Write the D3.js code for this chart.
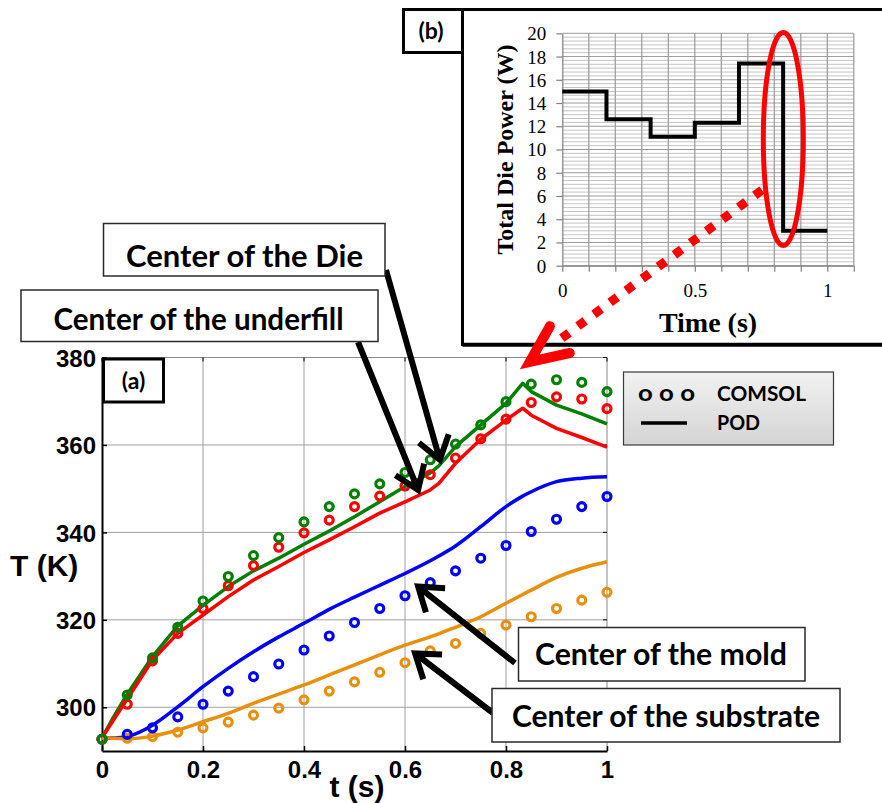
<!DOCTYPE html>
<html>
<head>
<meta charset="utf-8">
<script src="https://cdn.jsdelivr.net/npm/d3@7"></script>
<style>
  html, body { margin: 0; padding: 0; background: #fff; }
  svg { display: block; }
</style>
</head>
<body>
<svg id="chart" width="882" height="803"></svg>
<script>
// ---- Temperature histories (K) ----
const tComsol = [0, 0.05, 0.1, 0.15, 0.2, 0.25, 0.3, 0.35, 0.4, 0.45, 0.5, 0.55, 0.6, 0.65, 0.7, 0.75, 0.8, 0.85, 0.9, 0.95, 1];
const dieComsol       = [292.7, 302.8, 311.3, 318.3, 324.3, 329.9, 334.7, 338.8, 342.4, 345.9, 348.8, 351.1, 353.7, 356.6, 360.2, 364.6, 369.9, 373.9, 374.9, 374.3, 372.2];
const underfillComsol = [292.7, 300.7, 310.6, 316.9, 322.6, 327.8, 332.4, 336.6, 339.9, 342.8, 345.9, 348.3, 350.6, 353.2, 357.0, 361.4, 365.9, 369.7, 371.0, 370.5, 368.3];
const moldComsol      = [292.7, 293.8, 295.3, 297.8, 300.7, 303.7, 307.0, 309.9, 313.1, 316.3, 319.4, 322.6, 325.5, 328.5, 331.2, 334.1, 337.0, 340.2, 343.0, 345.9, 348.2];
const substrateComsol = [292.7, 292.9, 293.3, 294.3, 295.3, 296.6, 298.2, 299.8, 301.7, 303.7, 305.8, 308.0, 310.2, 312.9, 314.6, 316.9, 318.8, 320.7, 322.6, 324.5, 326.3];

const tPod = [0, 0.025, 0.05, 0.1, 0.15, 0.2, 0.25, 0.3, 0.35, 0.4, 0.45, 0.5, 0.55, 0.6, 0.65, 0.667, 0.7, 0.75, 0.8, 0.833, 0.85, 0.9, 0.95, 1];
const diePod       = [293.0, 298.2, 303.0, 311.6, 318.6, 323.3, 327.6, 331.2, 334.1, 337.3, 340.3, 343.6, 347.0, 350.5, 353.6, 355.2, 359.6, 364.6, 369.5, 374.1, 372.2, 369.1, 367.1, 364.8];
const underfillPod = [293.0, 297.5, 301.9, 310.8, 316.9, 321.1, 325.3, 329.1, 332.2, 335.4, 338.3, 341.3, 344.4, 347.0, 349.7, 351.2, 355.8, 361.3, 365.7, 368.4, 366.8, 363.8, 361.7, 359.5];
const moldPod      = [293.0, 293.0, 293.3, 295.9, 300.1, 304.7, 308.9, 312.7, 316.1, 319.2, 322.4, 325.2, 327.9, 330.6, 333.5, 334.6, 336.9, 341.3, 345.9, 348.3, 349.3, 351.6, 352.4, 352.7];
const substratePod = [293.0, 292.9, 292.8, 293.4, 294.8, 296.7, 298.6, 300.9, 303.0, 305.1, 307.4, 309.7, 312.0, 314.2, 316.1, 316.8, 318.3, 320.7, 323.8, 325.8, 326.8, 329.7, 331.8, 333.3];

const seriesNames  = ["die", "underfill", "mold", "substrate"];
const seriesColors = ["#008000", "#ff0000", "#0000ff", "#e8900c"];

const xTicks = [0, 0.2, 0.4, 0.6, 0.8, 1];
const xTickLabels = ["0", "0.2", "0.4", "0.6", "0.8", "1"];
const yTicks = [300, 320, 340, 360, 380];

// ---- Die power steps (W) ----
const powerT = [0, 0.1667, 0.3333, 0.5, 0.6667, 0.8333, 1];
const powerW = [15, 12.6, 11.1, 12.3, 17.4, 3, 3];
const powerXTicks = [0, 0.5, 1];
const powerYTicks = [0, 2, 4, 6, 8, 10, 12, 14, 16, 18, 20];

const svg = d3.select("#chart");
const sans = "'Liberation Sans', Arial, sans-serif";
const box = "Lato, 'Open Sans', sans-serif";
const serif = "'Liberation Serif', 'Times New Roman', serif";

// ================= Main plot (a) =================
const x = d3.scaleLinear().domain([0, 1]).range([102, 607]);
const y = d3.scaleLinear().domain([290, 380]).range([751, 357.5]);

const main = svg.append("g");

// grid
main.append("g").selectAll("line").data(xTicks.filter(d => d > 0 && d < 1)).join("line")
  .attr("x1", d => x(d)).attr("x2", d => x(d)).attr("y1", y(290)).attr("y2", y(380))
  .attr("stroke", "#a0a0a0").attr("stroke-width", 1);
main.append("g").selectAll("line").data(yTicks.filter(d => d < 380)).join("line")
  .attr("x1", x(0)).attr("x2", x(1)).attr("y1", d => y(d)).attr("y2", d => y(d))
  .attr("stroke", "#a0a0a0").attr("stroke-width", 1);

// top/right frame with small inward ticks
main.append("line").attr("x1", x(0)).attr("x2", x(1)).attr("y1", y(380)).attr("y2", y(380))
  .attr("stroke", "#8a8a8a").attr("stroke-width", 1);
main.append("line").attr("x1", x(1)).attr("x2", x(1)).attr("y1", y(290)).attr("y2", y(380))
  .attr("stroke", "#8a8a8a").attr("stroke-width", 1);
main.append("g").selectAll("line").data(xTicks).join("line")
  .attr("x1", d => x(d)).attr("x2", d => x(d)).attr("y1", y(380)).attr("y2", y(380) + 4)
  .attr("stroke", "#000").attr("stroke-width", 1);
main.append("g").selectAll("line").data(yTicks).join("line")
  .attr("x1", x(1) - 4).attr("x2", x(1)).attr("y1", d => y(d)).attr("y2", d => y(d))
  .attr("stroke", "#000").attr("stroke-width", 1);

// left and bottom axes
const yAxis = main.append("g").attr("transform", `translate(${x(0)},0)`)
  .call(d3.axisLeft(y).tickValues(yTicks).tickSizeInner(-5).tickSizeOuter(0).tickPadding(6));
const xAxis = main.append("g").attr("transform", `translate(0,${y(290)})`)
  .call(d3.axisBottom(x).tickValues(xTicks).tickFormat((d, i) => xTickLabels[i]).tickSizeInner(-5).tickSizeOuter(0).tickPadding(10));
[yAxis, xAxis].forEach(a => {
  a.select(".domain").attr("stroke", "#000").attr("stroke-width", 2);
  a.selectAll(".tick line").attr("stroke", "#000").attr("stroke-width", 1.5);
  a.selectAll("text").attr("font-family", sans).attr("font-weight", "bold")
    .attr("font-size", 24).attr("fill", "#000");
});
yAxis.selectAll("text").attr("dy", "0.36em");
xAxis.selectAll("text").attr("dy", "0.71em");

// axis titles
main.append("text").attr("x", 10).attr("y", 576).text("T (K)")
  .attr("font-family", sans).attr("font-weight", "bold").attr("font-size", 30);
main.append("text").attr("x", 357).attr("y", 797).attr("text-anchor", "middle").text("t (s)")
  .attr("font-family", sans).attr("font-weight", "bold").attr("font-size", 30);

// POD curves: die and underfill keep their sharp kinks, mold and substrate are smooth
const podSeries = [diePod, underfillPod, moldPod, substratePod];
const comsolSeries = [dieComsol, underfillComsol, moldComsol, substrateComsol];
const sharpLine = d3.line().x(d => x(d[0])).y(d => y(d[1]));
const smoothLine = d3.line().curve(d3.curveMonotoneX).x(d => x(d[0])).y(d => y(d[1]));
main.append("g").selectAll("path").data(podSeries).join("path")
  .attr("d", (s, i) => (i < 2 ? sharpLine : smoothLine)(tPod.map((t, k) => [t, s[k]])))
  .attr("fill", "none")
  .attr("stroke", (s, i) => seriesColors[i])
  .attr("stroke-width", 3.5)
  .attr("stroke-linejoin", "round");

// COMSOL markers
comsolSeries.slice().reverse().forEach((s, ri) => {
  const i = comsolSeries.length - 1 - ri;
  main.append("g").attr("class", "m-" + seriesNames[i]).selectAll("circle")
    .data(tComsol.map((t, k) => [t, s[k]])).join("circle")
    .attr("cx", d => x(d[0])).attr("cy", d => y(d[1])).attr("r", 4)
    .attr("fill", "none").attr("stroke", seriesColors[i]).attr("stroke-width", 3.1);
});

// (a) label box
main.append("rect").attr("x", 103.5).attr("y", 359).attr("width", 60).attr("height", 43)
  .attr("fill", "#fff").attr("stroke", "#000").attr("stroke-width", 3);
main.append("text").attr("x", 133.5).attr("y", 389).attr("text-anchor", "middle").text("(a)")
  .attr("font-family", box).attr("font-weight", "bold").attr("font-size", 23);

// legend
const defs = svg.append("defs");
const grad = defs.append("linearGradient").attr("id", "legendFill").attr("x1", 0).attr("x2", 0).attr("y1", 0).attr("y2", 1);
grad.append("stop").attr("offset", "0%").attr("stop-color", "#f2f2f2");
grad.append("stop").attr("offset", "100%").attr("stop-color", "#d4d4d4");
const leg = svg.append("g");
leg.append("rect").attr("x", 623.5).attr("y", 372).attr("width", 210).attr("height", 73)
  .attr("fill", "url(#legendFill)").attr("stroke", "#3a3a3a").attr("stroke-width", 1.2);
leg.append("text").attr("x", 638).attr("y", 401).text("o o o")
  .attr("font-family", box).attr("font-weight", "bold").attr("font-size", 22)
  .attr("textLength", 57).attr("lengthAdjust", "spacingAndGlyphs");
leg.append("line").attr("x1", 641).attr("x2", 687).attr("y1", 423).attr("y2", 423)
  .attr("stroke", "#000").attr("stroke-width", 3.5);
leg.append("text").attr("x", 717).attr("y", 401).text("COMSOL")
  .attr("font-family", box).attr("font-weight", "bold").attr("font-size", 21)
  .attr("textLength", 89).attr("lengthAdjust", "spacingAndGlyphs");
leg.append("text").attr("x", 717).attr("y", 430).text("POD")
  .attr("font-family", box).attr("font-weight", "bold").attr("font-size", 21)
  .attr("textLength", 43).attr("lengthAdjust", "spacingAndGlyphs");

// ================= Inset plot (b) =================
const inset = svg.append("g");
inset.append("rect").attr("x", 462.5).attr("y", 9.5).attr("width", 430).attr("height", 335)
  .attr("fill", "#fff").attr("stroke", "#000").attr("stroke-width", 3);
inset.append("line").attr("x1", 462.5).attr("x2", 882).attr("y1", 344.7).attr("y2", 344.7)
  .attr("stroke", "#000").attr("stroke-width", 4);
inset.append("rect").attr("x", 403.5).attr("y", 9.5).attr("width", 59).attr("height", 43)
  .attr("fill", "#fff").attr("stroke", "#000").attr("stroke-width", 3);
inset.append("text").attr("x", 431).attr("y", 39).attr("text-anchor", "middle").text("(b)")
  .attr("font-family", box).attr("font-weight", "bold").attr("font-size", 23);

const xi = d3.scaleLinear().domain([0, 1.1]).range([562.3, 853.8]);
const yi = d3.scaleLinear().domain([0, 20]).range([265.7, 33.3]);

// minor horizontal grid every 1/3 W, majors every 2 W
const minorY = d3.range(0, 61).map(k => k / 3);
inset.append("g").selectAll("line").data(minorY).join("line")
  .attr("x1", xi(0)).attr("x2", xi(1.1)).attr("y1", d => yi(d)).attr("y2", d => yi(d))
  .attr("stroke", d => (Math.abs(d / 2 - Math.round(d / 2)) < 1e-6) ? "#9a9a9a" : "#c4c4c4")
  .attr("stroke-width", 1);
const gridX = d3.range(1, 12).map(k => k / 10);
inset.append("g").selectAll("line").data(gridX).join("line")
  .attr("x1", d => xi(d)).attr("x2", d => xi(d)).attr("y1", yi(0)).attr("y2", yi(20))
  .attr("stroke", "#9a9a9a").attr("stroke-width", 1.2);

const yiAxis = inset.append("g").attr("transform", `translate(${xi(0)},0)`)
  .call(d3.axisLeft(yi).tickValues(powerYTicks).tickSizeInner(6).tickSizeOuter(0).tickPadding(10));
const xiAxis = inset.append("g").attr("transform", `translate(0,${yi(0)})`)
  .call(d3.axisBottom(xi).tickValues(d3.range(0, 12).map(k => k / 10)).tickSizeInner(6).tickSizeOuter(0)
    .tickFormat(d => powerXTicks.some(v => Math.abs(v - d) < 1e-9) ? d3.format("")(+d.toFixed(1)) : "").tickPadding(12));
[yiAxis, xiAxis].forEach(a => {
  a.select(".domain").attr("stroke", "#808080").attr("stroke-width", 1.2);
  a.selectAll(".tick line").attr("stroke", "#808080").attr("stroke-width", 1.2);
  a.selectAll("text").attr("font-family", serif).attr("font-size", 19).attr("fill", "#000");
});
yiAxis.selectAll("text").attr("dy", "0.34em");
xiAxis.selectAll("text").attr("dy", "0.71em");

inset.append("text").attr("x", xi(0.55)).attr("y", 332).attr("text-anchor", "middle").text("Time (s)")
  .attr("font-family", serif).attr("font-weight", "bold").attr("font-size", 28);
inset.append("text").attr("transform", `translate(513,${yi(10)}) rotate(-90)`).attr("text-anchor", "middle")
  .text("Total Die Power (W)")
  .attr("font-family", serif).attr("font-weight", "bold").attr("font-size", 24);

const stepLine = d3.line().curve(d3.curveStepAfter).x(d => xi(d[0])).y(d => yi(d[1]));
inset.append("path").attr("d", stepLine(powerT.map((t, i) => [t, powerW[i]])))
  .attr("fill", "none").attr("stroke", "#000").attr("stroke-width", 4).attr("stroke-linejoin", "miter");

// highlight of the power drop
inset.append("ellipse").attr("cx", xi(0.834)).attr("cy", yi(10.9)).attr("rx", 20).attr("ry", 106.5)
  .attr("fill", "none").attr("stroke", "#ff0000").attr("stroke-width", 5);

// ================= Call-outs =================
const ann = svg.append("g");

// red dotted pointer from the power drop to the temperature peak
const redTail = [762, 190];
const redTip = [x(0.847), y(379)];
(function () {
  const ang = Math.atan2(redTip[1] - redTail[1], redTip[0] - redTail[0]);
  const stopAt = 30;
  const ex = redTip[0] - stopAt * Math.cos(ang), ey = redTip[1] - stopAt * Math.sin(ang);
  ann.append("line").attr("x1", redTail[0]).attr("y1", redTail[1]).attr("x2", ex).attr("y2", ey)
    .attr("stroke", "#ff0000").attr("stroke-width", 9).attr("stroke-dasharray", "9,11");
  const L = 41, phi = 24 * Math.PI / 180;
  const a1 = [redTip[0] - L * Math.cos(ang - phi), redTip[1] - L * Math.sin(ang - phi)];
  const a2 = [redTip[0] - L * Math.cos(ang + phi), redTip[1] - L * Math.sin(ang + phi)];
  ann.append("path").attr("d", `M${a1}L${redTip}L${a2}`)
    .attr("fill", "none").attr("stroke", "#ff0000").attr("stroke-width", 10)
    .attr("stroke-linecap", "round").attr("stroke-linejoin", "miter");
})();

function arrow(tail, tip) {
  const ang = Math.atan2(tip[1] - tail[1], tip[0] - tail[0]);
  const L = 27, phi = 35 * Math.PI / 180;
  const a1 = [tip[0] - L * Math.cos(ang - phi), tip[1] - L * Math.sin(ang - phi)];
  const a2 = [tip[0] - L * Math.cos(ang + phi), tip[1] - L * Math.sin(ang + phi)];
  ann.append("path").attr("d", `M${tail}L${tip}M${a1}L${tip}L${a2}`)
    .attr("fill", "none").attr("stroke", "#000").attr("stroke-width", 6)
    .attr("stroke-linejoin", "miter").attr("stroke-miterlimit", 10);
}

function label(x0, y0, w, h, text, tx, ty, tw) {
  ann.append("rect").attr("x", x0).attr("y", y0).attr("width", w).attr("height", h)
    .attr("fill", "#fff").attr("stroke", "#2a2a2a").attr("stroke-width", 1.5);
  ann.append("text").attr("x", tx).attr("y", ty).attr("text-anchor", "middle").text(text)
    .attr("font-family", box).attr("font-weight", "bold").attr("font-size", 30)
    .attr("textLength", tw).attr("lengthAdjust", "spacingAndGlyphs");
}

arrow([386, 270], [x(0.669), y(356.6)]);
arrow([358, 342], [x(0.626), y(349.7)]);
arrow([515, 663], [x(0.626), y(327.6)]);
arrow([493, 713], [x(0.620), y(312.3)]);

label(103.5, 223.5, 281.5, 52.5, "Center of the Die", 244.5, 266.5, 237);
label(21, 290, 357, 51.5, "Center of the underfill", 198.5, 330, 290);
label(518.5, 627.5, 286.5, 53.5, "Center of the mold", 661, 665, 252);
label(492, 688.5, 348, 53.5, "Center of the substrate", 666, 726.5, 308);
</script>
</body>
</html>
